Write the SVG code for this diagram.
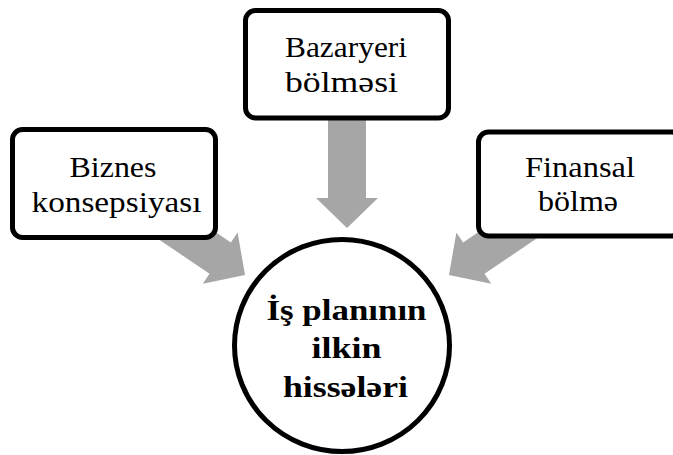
<svg xmlns="http://www.w3.org/2000/svg" width="673" height="455" viewBox="0 0 673 455">
  <style>
    .box { fill: #ffffff; stroke: #000000; stroke-width: 5; }
    .hub { fill: #ffffff; stroke: #000000; stroke-width: 5; }
    .arrow { fill: #a6a6a6; stroke: none; }
    text { font-family: 'Liberation Serif', 'Times New Roman', 'DejaVu Serif', serif; fill: #000000; text-anchor: middle; }
    .lbl { font-size: 30px; }
    .hubtxt { font-size: 29px; font-weight: bold; }
  </style>
  <defs>
    <!-- block arrow pointing along +x, tip at the origin -->
    <path id="blockArrow" d="M0,0 L-30,-31 L-30,-19 L-118,-19 L-118,19 L-30,19 L-30,31 Z"/>
  </defs>

  <rect width="673" height="455" fill="#ffffff"/>

  <g id="connectors">
    <use href="#blockArrow" class="arrow" transform="translate(347,228) rotate(90)"/>
    <use href="#blockArrow" class="arrow" transform="translate(245,275) rotate(34.2)"/>
    <use href="#blockArrow" class="arrow" transform="translate(449,275) rotate(145.8)"/>
  </g>

  <g id="node-biznes">
    <rect class="box" x="12.5" y="129.5" width="203" height="108" rx="10"/>
    <text class="lbl" x="113" y="177" textLength="87" lengthAdjust="spacingAndGlyphs">Biznes</text>
    <text class="lbl" x="116.5" y="212" textLength="170" lengthAdjust="spacingAndGlyphs">konsepsiyası</text>
  </g>

  <g id="node-bazaryeri">
    <rect class="box" x="245.5" y="10.5" width="203" height="107.5" rx="10"/>
    <text class="lbl" x="346" y="57" textLength="122" lengthAdjust="spacingAndGlyphs">Bazaryeri</text>
    <text class="lbl" x="341.5" y="92" textLength="113" lengthAdjust="spacingAndGlyphs">bölməsi</text>
  </g>

  <g id="node-finansal">
    <rect class="box" x="478.5" y="132" width="203" height="104" rx="10"/>
    <text class="lbl" x="580" y="177" textLength="110" lengthAdjust="spacingAndGlyphs">Finansal</text>
    <text class="lbl" x="578" y="210.5" textLength="80" lengthAdjust="spacingAndGlyphs">bölmə</text>
  </g>

  <g id="node-hub">
    <ellipse class="hub" cx="342" cy="345.5" rx="107.5" ry="106"/>
    <text class="hubtxt" x="346.5" y="320" textLength="160" lengthAdjust="spacingAndGlyphs">İş planının</text>
    <text class="hubtxt" x="346.5" y="358" textLength="70" lengthAdjust="spacingAndGlyphs">ilkin</text>
    <text class="hubtxt" x="345.5" y="397" textLength="125" lengthAdjust="spacingAndGlyphs">hissələri</text>
  </g>
</svg>
